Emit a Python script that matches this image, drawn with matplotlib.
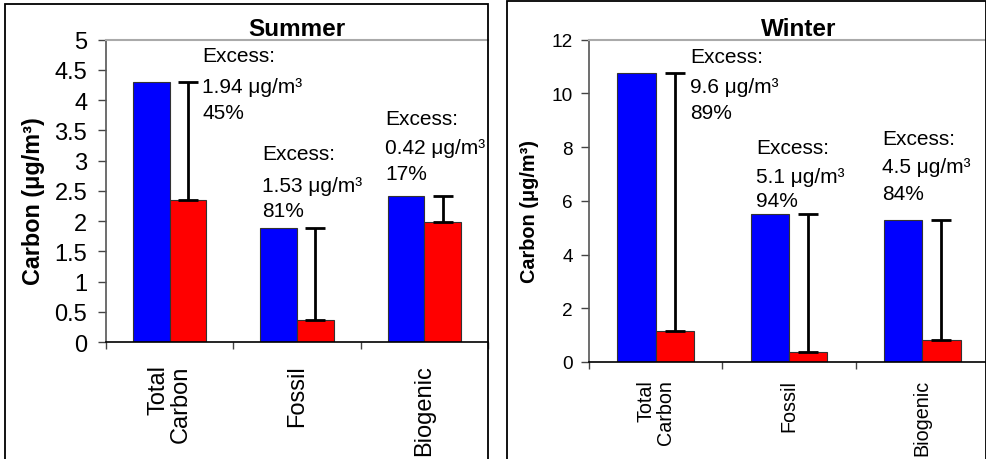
import matplotlib.pyplot as plt
import matplotlib.patches as mpatches
import matplotlib.transforms as mtransforms
import numpy as np

plt.rcParams['font.family'] = ['Liberation Sans', 'DejaVu Sans']

# Data
categories = ["Total\nCarbon", "Fossil", "Biogenic"]

summer_blue = [4.30, 1.89, 2.41]
summer_red = [2.35, 0.36, 1.99]
summer_excess = ["1.94", "1.53", "0.42"]
summer_pct = ["45%", "81%", "17%"]

winter_blue = [10.75, 5.50, 5.30]
winter_red = [1.15, 0.38, 0.83]
winter_excess = ["9.6", "5.1", "4.5"]
winter_pct = ["89%", "94%", "84%"]

# annotation placement (x offset from category, baselines of the three lines)
summer_note_x = [0.255, 0.725, 1.694]
summer_note_y = [[4.64, 4.14, 3.70], [3.03, 2.50, 2.09], [3.61, 3.13, 2.70]]
winter_note_x = [0.258, 0.756, 1.70]
winter_note_y = [[11.16, 10.04, 9.07], [7.78, 6.71, 5.80], [8.12, 7.06, 6.07]]

W, H = 987, 460
fig = plt.figure(figsize=(W / 100, H / 100), dpi=100)

# outer frames of the two panels
for x0, y0, x1 in [(5, 5, 488), (507, 2, 986)]:
    fig.patches.append(mpatches.Rectangle((x0 / W, -0.1), (x1 - x0) / W, 1.1 - y0 / H,
                                          transform=fig.transFigure, fill=False,
                                          edgecolor='black', linewidth=1.3))


def panel(rect, blue, red, excess, pct, note_x, note_y, ymax, ystep, title, title_x,
          tick_fs, tick_pad, cat_fs, cat_pad, lab_fs, lab_x, note_fs):
    ax = fig.add_axes(rect)
    x = np.arange(len(categories))
    w = 0.287
    ax.bar(x - w / 2, blue, w, color='#0000ff', edgecolor='#333333', linewidth=0.8, zorder=2)
    ax.bar(x + w / 2, red, w, color='#ff0000', edgecolor='#333333', linewidth=0.8, zorder=2)
    up = np.array(blue) - np.array(red)
    ax.errorbar(x + w / 2, red, yerr=[np.zeros(len(up)), up], fmt='none',
                ecolor='black', elinewidth=2, capsize=7, capthick=2, zorder=3)
    ax.set_xlim(-0.5, 2.5)
    ax.set_ylim(0, ymax)
    ticks = np.arange(0, ymax + ystep / 2, ystep)
    ax.set_yticks(ticks)
    ax.set_yticklabels([f"{v:g}" for v in ticks], fontsize=tick_fs)
    ax.set_xticks([-0.5, 0.5, 1.5, 2.5])
    ax.set_xticklabels([])
    ax.tick_params(axis='x', which='major', direction='out', length=5, width=1, color='#444444')
    ax.tick_params(axis='y', direction='out', length=5.5, width=1, color='#444444', pad=tick_pad)

    # category labels, rotated, lines aligned at their ends
    trans = mtransforms.offset_copy(ax.get_xaxis_transform(), fig=fig, y=-cat_pad, units='points')
    for xi, lab in zip(x, categories):
        ax.text(xi, 0, lab, transform=trans, rotation=90, fontsize=cat_fs,
                ha='center', va='top', linespacing=1.0, multialignment='right')

    ax.spines['top'].set_color('#aaaaaa')
    ax.spines['top'].set_linewidth(1.5)
    ax.spines['right'].set_visible(False)
    ax.spines['left'].set_color('#555555')
    ax.spines['left'].set_linewidth(1.2)
    ax.spines['bottom'].set_color('black')
    ax.spines['bottom'].set_linewidth(1.2)
    ax.set_ylabel("Carbon (μg/m³)", fontsize=lab_fs, fontweight='bold')
    ax.yaxis.set_label_coords(lab_x, 0.47)
    ax.set_title(title, fontsize=17.5, fontweight='bold', pad=3, x=title_x)
    for i in range(len(categories)):
        lines = ["Excess:", f"{excess[i]} μg/m³", pct[i]]
        for t, yy in zip(lines, note_y[i]):
            ax.text(note_x[i], yy, t, fontsize=note_fs, ha='left', va='baseline')
    return ax


panel([106 / W, 1 - 343 / H, (488 - 106) / W, (343 - 40.7) / H],
      summer_blue, summer_red, summer_excess, summer_pct, summer_note_x, summer_note_y,
      5, 0.5, "Summer", 0.5, 17, 8, 17, 16, 16.8, -0.16, 15)

panel([589 / W, 1 - 363 / H, (989 - 589) / W, (363 - 40.7) / H],
      winter_blue, winter_red, winter_excess, winter_pct, winter_note_x, winter_note_y,
      12, 2, "Winter", 0.524, 13.7, 6, 14.2, 12, 14.3, -0.125, 15)

fig.savefig("out.png", dpi=100)
